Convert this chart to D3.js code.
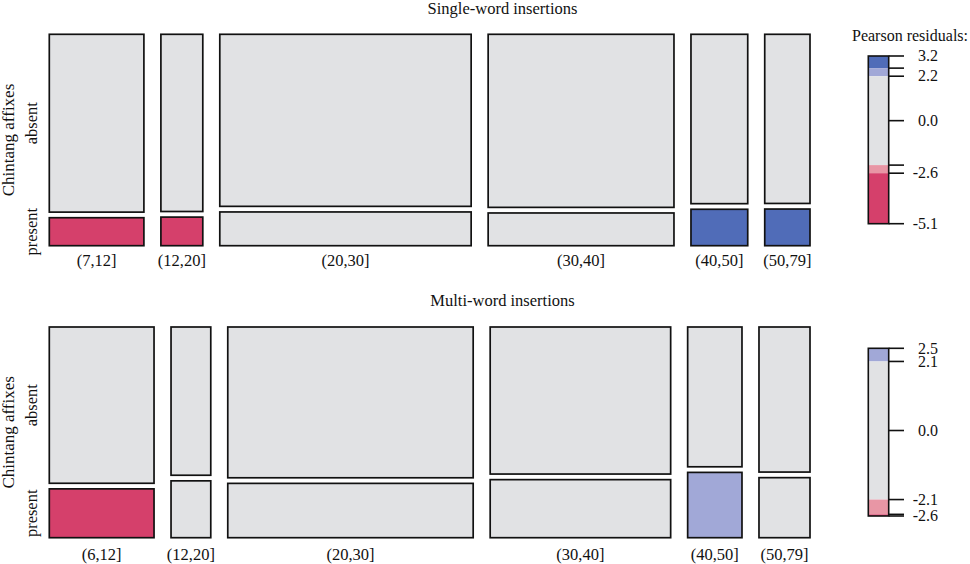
<!DOCTYPE html>
<html>
<head>
<meta charset="utf-8">
<script src="https://cdn.jsdelivr.net/npm/d3@7"></script>
<style>
  body { margin: 0; background: #fff; }
  svg text { font-family: "Liberation Serif", "DejaVu Serif", serif; fill: #111; }
</style>
</head>
<body>
<svg id="chart" width="970" height="564"></svg>
<script>
// Single-word insertions
var categoriesTop = ["(7,12]", "(12,20]", "(20,30]", "(30,40]", "(40,50]", "(50,79]"];
var absentTop = [7258, 3203, 18660, 13876, 4148, 3304];
var presentTop = [1142, 517, 3660, 2624, 892, 716];
var residAbsentTop = [2.1, 1.3, -0.3, -0.1, -1.4, -1.3];
var residPresentTop = [-5.1, -3.0, 0.6, 0.2, 3.2, 2.9];

// Multi-word insertions
var categoriesBottom = ["(6,12]", "(12,20]", "(20,30]", "(30,40]", "(40,50]", "(50,79]"];
var absentBottom = [1181, 425, 2670, 1915, 548, 534];
var presentBottom = [369, 163, 962, 756, 256, 221];
var residAbsentBottom = [1.6, 0.1, 0.4, -0.3, -1.5, -0.6];
var residPresentBottom = [-2.6, 0.1, -0.6, 0.5, 2.5, 1.0];

// legend: shading cut-offs and ticks
var cutsTop = [2.2, 2.6];
var rangeTop = [-5.1, 3.2];
var ticksTop = [3.2, 2.6, 2.2, 0, -2.2, -2.6, -5.1];
var tickLabelsTop = ["3.2", "", "2.2", "0.0", "", "-2.6", "-5.1"];

var cutsBottom = [2.1, 2.55];
var rangeBottom = [-2.6, 2.5];
var ticksBottom = [2.5, 2.1, 0, -2.1, -2.55, -2.6];
var tickLabelsBottom = ["2.5", "2.1", "0.0", "-2.1", "", "-2.6"];

var colGray = "#e1e2e4";
var colBlueLight = "#a1a8d7";
var colBlueDark = "#506cb8";
var colRedLight = "#e896a5";
var colRedDark = "#d5406b";

function shade(r, cuts) {
    if (r >= cuts[1]) return colBlueDark;
    if (r >= cuts[0]) return colBlueLight;
    if (r <= -cuts[1]) return colRedDark;
    if (r <= -cuts[0]) return colRedLight;
    return colGray;
}

var svg = d3.select("#chart");
var fontSize = 16.5;

function drawPanel(opt) {
    var g = svg.append("g");
    var n = opt.categories.length;
    var totals = opt.absent.map((a, i) => a + opt.present[i]);
    var grand = d3.sum(totals);
    var cum = d3.cumsum([0].concat(totals));

    var hGap = 17, vGap = 5.6;
    var xScale = d3.scaleLinear()
        .domain([0, grand])
        .range([opt.x0, opt.x1 - hGap * (n - 1)]);
    var hScale = d3.scaleLinear().domain([0, 1]).range([0, opt.y1 - opt.y0 - vGap]);

    for (var i = 0; i < n; i++) {
        var left = xScale(cum[i]) + i * hGap;
        var right = xScale(cum[i + 1]) + i * hGap;
        var ph = hScale(opt.present[i] / totals[i]);
        var presentTop = opt.y1 - ph;
        var absentBottom = presentTop - vGap;

        // absent cell
        g.append("rect")
            .attr("x", left).attr("y", opt.y0)
            .attr("width", right - left).attr("height", absentBottom - opt.y0)
            .attr("fill", shade(opt.residAbsent[i], opt.cuts))
            .attr("stroke", "#111").attr("stroke-width", 1.7);

        // present cell
        g.append("rect")
            .attr("x", left).attr("y", presentTop)
            .attr("width", right - left).attr("height", ph)
            .attr("fill", shade(opt.residPresent[i], opt.cuts))
            .attr("stroke", "#111").attr("stroke-width", 1.7);

        g.append("text")
            .attr("x", (left + right) / 2).attr("y", opt.labelY)
            .attr("text-anchor", "middle")
            .style("font-size", fontSize + "px")
            .text(opt.categories[i]);

        if (i === 0) {
            g.append("text")
                .attr("transform", "translate(37," + ((opt.y0 + absentBottom) / 2) + ") rotate(-90)")
                .attr("text-anchor", "middle")
                .style("font-size", fontSize + "px")
                .text("absent");
            g.append("text")
                .attr("transform", "translate(37," + ((presentTop + opt.y1) / 2) + ") rotate(-90)")
                .attr("text-anchor", "middle")
                .style("font-size", fontSize + "px")
                .text("present");
        }
    }

    // variable name
    g.append("text")
        .attr("transform", "translate(14," + ((opt.y0 + opt.y1) / 2) + ") rotate(-90)")
        .attr("text-anchor", "middle")
        .style("font-size", "17px")
        .text("Chintang affixes");

    // title
    g.append("text")
        .attr("x", 502.5).attr("y", opt.titleY)
        .attr("text-anchor", "middle")
        .style("font-size", fontSize + "px")
        .text(opt.title);

    // legend
    var lx0 = 868.3, lx1 = 888.7;
    var yScale = d3.scaleLinear().domain(opt.range).range([opt.ly1, opt.ly0]);
    var lo = opt.range[0], hi = opt.range[1], c = opt.cuts;
    var bands = [
        [c[1], hi, colBlueDark],
        [c[0], c[1], colBlueLight],
        [-c[0], c[0], colGray],
        [-c[1], -c[0], colRedLight],
        [lo, -c[1], colRedDark]
    ];
    bands.forEach(function (b) {
        var a = Math.max(b[0], lo), z = Math.min(b[1], hi);
        if (z <= a) return;
        g.append("rect")
            .attr("x", lx0).attr("y", yScale(z))
            .attr("width", lx1 - lx0).attr("height", yScale(a) - yScale(z))
            .attr("fill", b[2]);
    });
    g.append("rect")
        .attr("x", lx0).attr("y", yScale(hi))
        .attr("width", lx1 - lx0).attr("height", yScale(lo) - yScale(hi))
        .attr("fill", "none").attr("stroke", "#111").attr("stroke-width", 1.6);

    opt.ticks.forEach(function (t, k) {
        g.append("line")
            .attr("x1", lx1).attr("x2", 904)
            .attr("y1", yScale(t)).attr("y2", yScale(t))
            .attr("stroke", "#111").attr("stroke-width", 1.6);
        if (opt.tickLabels[k] !== "") {
            g.append("text")
                .attr("x", 938).attr("y", yScale(t))
                .attr("dy", "0.33em")
                .attr("text-anchor", "end")
                .style("font-size", "16px")
                .text(opt.tickLabels[k]);
        }
    });

    if (opt.legendTitle) {
        g.append("text")
            .attr("x", 968).attr("y", 41)
            .attr("text-anchor", "end")
            .style("font-size", "16px")
            .text(opt.legendTitle);
    }
}

drawPanel({
    title: "Single-word insertions", titleY: 14,
    categories: categoriesTop, absent: absentTop, present: presentTop,
    residAbsent: residAbsentTop, residPresent: residPresentTop,
    cuts: cutsTop, range: rangeTop, ticks: ticksTop, tickLabels: tickLabelsTop,
    x0: 49.3, x1: 810, y0: 34.3, y1: 245.7, labelY: 266,
    ly0: 56, ly1: 223.7, legendTitle: "Pearson residuals:"
});

drawPanel({
    title: "Multi-word insertions", titleY: 306,
    categories: categoriesBottom, absent: absentBottom, present: presentBottom,
    residAbsent: residAbsentBottom, residPresent: residPresentBottom,
    cuts: cutsBottom, range: rangeBottom, ticks: ticksBottom, tickLabels: tickLabelsBottom,
    x0: 49.3, x1: 810, y0: 327, y1: 537.7, labelY: 560,
    ly0: 348.3, ly1: 516, legendTitle: null
});
</script>
</body>
</html>
